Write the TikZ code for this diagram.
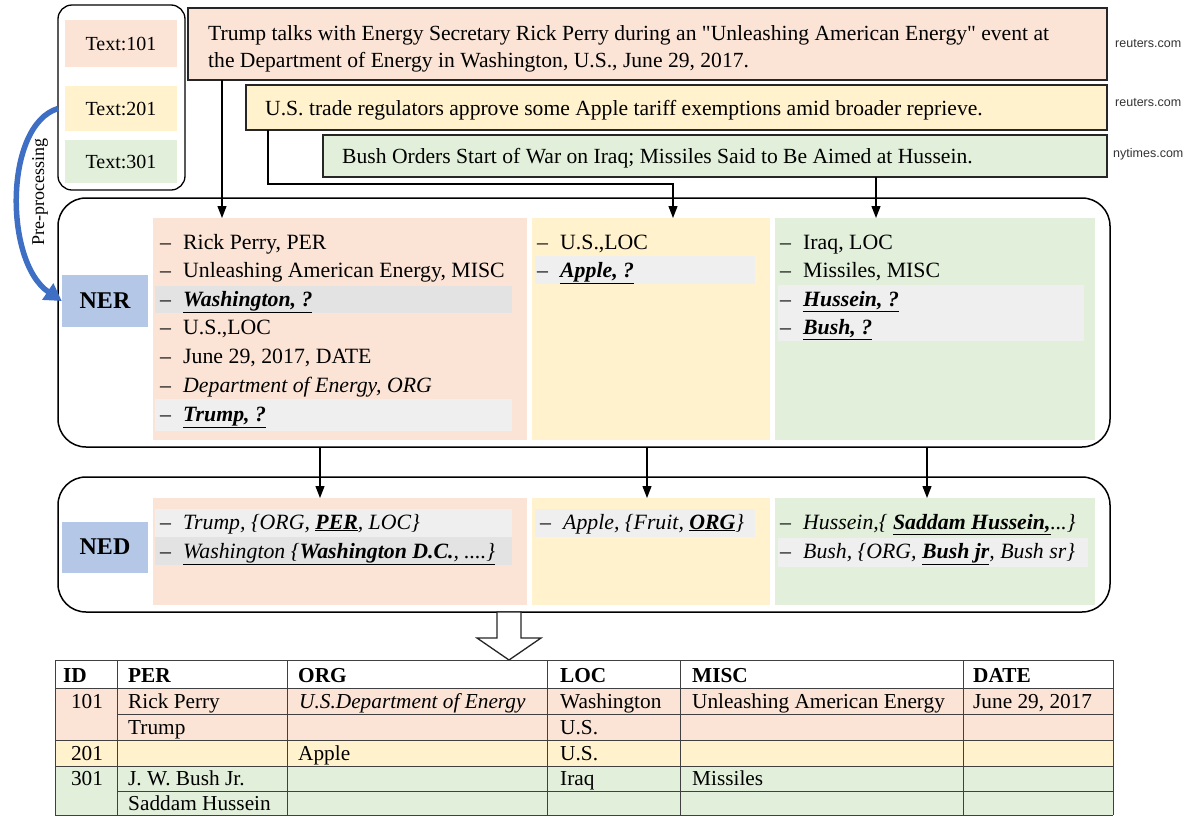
\documentclass[tikz,border=0pt]{standalone}
\usepackage{fontspec}
\setmainfont{Liberation Serif}
\newfontfamily\qfont{Liberation Serif}
\newfontfamily\sansf{Liberation Sans}
\usetikzlibrary{arrows.meta}
\definecolor{cpink}{HTML}{FBE4D6}
\definecolor{cyel}{HTML}{FFF2CC}
\definecolor{cgrn}{HTML}{E2EFDA}
\definecolor{cblue}{HTML}{B4C7E7}
\definecolor{chl}{HTML}{EFEFEF}
\definecolor{chl2}{HTML}{E3E3E3}
\definecolor{darrow}{HTML}{3F6FC4}
\newcommand{\litem}[1]{\makebox[23pt][l]{–}#1}
\newcommand{\qm}[1]{\underline{\textbf{\textit{#1}}}}
\newcommand{\dq}{{\qfont"}}
\tikzset{
  blk/.style={anchor=north west, inner sep=0pt, outer sep=0pt},
  colbox/.style={blk, draw=none},
  hl/.style={blk, draw=none, fill=chl},
  sent/.style={blk, draw=black!85, line width=1.3pt},
  bigbox/.style={blk, draw=black, line width=1.5pt, rounded corners=28pt},
  lab/.style={inner sep=0pt, fill=cblue, font=\fontsize{24}{28}\selectfont\bfseries},
  tag/.style={inner sep=0pt, font=\fontsize{20}{23}\selectfont},
  stxt/.style={anchor=base west, inner sep=0pt, font=\fontsize{21.6}{25}\selectfont},
  itxt/.style={anchor=base west, inner sep=0pt, font=\fontsize{21.8}{25}\selectfont},
  src/.style={anchor=west, inner sep=0pt, font=\sansf\fontsize{12.5}{14}\selectfont, text=black!80},
  arr/.style={draw=black, line width=1.2pt, -{Triangle[length=12pt,width=9pt]}},
  tcell/.style={anchor=base west, inner sep=0pt, font=\fontsize{21.3}{24}\selectfont},
  thead/.style={tcell, font=\fontsize{21.3}{24}\selectfont\bfseries},
  tid/.style={tcell, anchor=base},
  tgrid/.style={draw=black!75, line width=1pt}
}
\begin{document}
\begin{tikzpicture}[x=1pt,y=-1pt]
\path[use as bounding box, fill=white] (0,0) rectangle (1194,817);

% ---------- source texts ----------
\node[blk, draw=black, line width=1.3pt, rounded corners=14pt, minimum width=127pt, minimum height=185pt] (srcbox) at (58,5) {};
\node[tag, fill=cpink, minimum width=112pt, minimum height=47pt] (t1) at (121,43.5) {Text:101};
\node[tag, fill=cyel, minimum width=112pt, minimum height=45pt] (t2) at (121,108.5) {Text:201};
\node[tag, fill=cgrn, minimum width=112pt, minimum height=43pt] (t3) at (121,161.5) {Text:301};

% ---------- sentences ----------
\node[sent, fill=cpink, minimum width=919pt, minimum height=72pt] (s1) at (188,8) {};
\node[stxt] (s1a) at (208,40) {Trump talks with Energy Secretary Rick Perry during an \dq Unleashing American Energy\dq\ event at};
\node[stxt] (s1b) at (208,67) {the Department of Energy in Washington, U.S., June 29, 2017.};
\node[sent, fill=cyel, minimum width=861pt, minimum height=45pt] (s2) at (246,85) {};
\node[stxt] (s2a) at (265,115) {U.S. trade regulators approve some Apple tariff exemptions amid broader reprieve.};
\node[sent, fill=cgrn, minimum width=784pt, minimum height=42pt] (s3) at (323,135) {};
\node[stxt] (s3a) at (342,163) {Bush Orders Start of War on Iraq; Missiles Said to Be Aimed at Hussein.};
\node[src] (r1) at (1115,44) {reuters.com};
\node[src] (r2) at (1115,103) {reuters.com};
\node[src] (r3) at (1113,154) {nytimes.com};

% ---------- NER ----------
\node[bigbox, minimum width=1052pt, minimum height=249pt] (ner) at (58,198) {};
\node[lab, minimum width=86pt, minimum height=52pt] (nerlab) at (105,301) {NER};
\node[colbox, fill=cpink, minimum width=374pt, minimum height=222pt] (nerP) at (153,218) {};
\node[colbox, fill=cyel, minimum width=238pt, minimum height=222pt] (nerY) at (532,218) {};
\node[colbox, fill=cgrn, minimum width=320pt, minimum height=222pt] (nerG) at (775,218) {};
\node[hl, fill=chl2, minimum width=357pt, minimum height=27pt] (h1) at (155,286) {};
\node[hl, minimum width=357pt, minimum height=32pt] (h2) at (155,399) {};
\node[hl, minimum width=220pt, minimum height=28pt] (h3) at (535,256) {};
\node[hl, minimum width=306pt, minimum height=56pt] (h4) at (778,285) {};

\node[itxt] (p1) at (160,249) {\litem{Rick Perry, PER}};
\node[itxt] (p2) at (160,277) {\litem{Unleashing American Energy, MISC}};
\node[itxt] (p3) at (160,306) {\litem{\qm{Washington, ?}}};
\node[itxt] (p4) at (160,334) {\litem{U.S.,LOC}};
\node[itxt] (p5) at (160,363) {\litem{June 29, 2017, DATE}};
\node[itxt] (p6) at (160,392) {\litem{\textit{Department of Energy, ORG}}};
\node[itxt] (p7) at (160,421) {\litem{\qm{Trump, ?}}};
\node[itxt] (y1) at (537,249) {\litem{U.S.,LOC}};
\node[itxt] (y2) at (537,277) {\litem{\qm{Apple, ?}}};
\node[itxt] (g1) at (780,249) {\litem{Iraq, LOC}};
\node[itxt] (g2) at (780,277) {\litem{Missiles, MISC}};
\node[itxt] (g3) at (780,306) {\litem{\qm{Hussein, ?}}};
\node[itxt] (g4) at (780,334) {\litem{\qm{Bush, ?}}};

% ---------- NED ----------
\node[bigbox, minimum width=1052pt, minimum height=135pt] (ned) at (58,477) {};
\node[lab, minimum width=86pt, minimum height=51pt] (nedlab) at (105,547) {NED};
\node[colbox, fill=cpink, minimum width=374pt, minimum height=107pt] (nedP) at (153,498) {};
\node[colbox, fill=cyel, minimum width=238pt, minimum height=107pt] (nedY) at (532,498) {};
\node[colbox, fill=cgrn, minimum width=320pt, minimum height=107pt] (nedG) at (775,498) {};
\node[hl, minimum width=357pt, minimum height=28pt] (k1) at (155,509) {};
\node[hl, fill=chl2, minimum width=357pt, minimum height=28pt] (k2) at (155,537) {};
\node[hl, minimum width=220pt, minimum height=28pt] (k3) at (535,509) {};
\node[hl, minimum width=310pt, minimum height=29pt] (k4) at (778,538) {};

\node[itxt] (d1) at (160,529) {\itshape\litem{Trump, \{ORG, \underline{\textbf{PER}}, LOC\}}};
\node[itxt] (d2) at (160,558) {\itshape\litem{\underline{Washington \{\textbf{Washington D.C.}, ....\}}}};
\node[itxt] (d3) at (540,529) {\itshape\litem{Apple, \{Fruit, \underline{\textbf{ORG}}\}}};
\node[itxt] (d4) at (780,529) {\itshape\litem{Hussein,\{ \underline{\textbf{Saddam Hussein,}}...\}}};
\node[itxt] (d5) at (780,558) {\itshape\litem{Bush, \{ORG, \underline{\textbf{Bush jr}}, Bush sr\}}};

% ---------- connectors ----------
\draw[arr] ([xshift=34pt]s1.south west) -- ([xshift=69pt]nerP.north west);
\draw[arr] ([xshift=22pt]s2.south west) -- ++(0,54) -| ([xshift=141pt]nerY.north west);
\draw[arr] ([xshift=553pt]s3.south west) -- ([xshift=101pt]nerG.north west);

\draw[arr] ([xshift=167pt]nerP.south west |- ner.south) -- ([xshift=167pt]nedP.north west);
\draw[arr] ([xshift=115pt]nerY.south west |- ner.south) -- ([xshift=115pt]nedY.north west);
\draw[arr] ([xshift=152pt]nerG.south west |- ner.south) -- ([xshift=152pt]nedG.north west);

% pre-processing
\draw[draw=darrow, line width=5.5pt, -{Triangle[length=17pt,width=19pt]}] (srcbox.west |- t2) .. controls (4,125) and (4,262) .. (nerlab.west);
\node[rotate=90, inner sep=0pt, font=\fontsize{18}{21}\selectfont] (pre) at (40,192) {Pre-processing};

% hollow arrow
\coordinate (ha) at (509,612);
\draw[fill=white, draw=black!85, line width=1.3pt] (ha) ++(-12,0) -- ++(24,0) -- ++(0,26) -- ++(20,0) -- ++(-32,22) -- ++(-32,-22) -- ++(20,0) -- cycle;

% ---------- table ----------
\fill[cpink] (55,688) rectangle (1113,740);
\fill[cyel] (55,740) rectangle (1113,766);
\fill[cgrn] (55,766) rectangle (1113,815);
\draw[tgrid] (55,660) -- (1113,660);
\draw[tgrid] (55,688) -- (1113,688);
\draw[tgrid] (117,714) -- (1113,714);
\draw[tgrid] (55,740) -- (1113,740);
\draw[tgrid] (55,766) -- (1113,766);
\draw[tgrid] (117,791) -- (1113,791);
\draw[tgrid] (55,815) -- (1113,815);
\foreach \cx in {55,117,287,547,680,963,1113} \draw[tgrid] (\cx,660) -- (\cx,815);

\node[thead] (hid) at (63,682) {ID};
\node[thead] (hper) at (128,682) {PER};
\node[thead] (horg) at (298,682) {ORG};
\node[thead] (hloc) at (560,682) {LOC};
\node[thead] (hmisc) at (692,682) {MISC};
\node[thead] (hdate) at (973,682) {DATE};

\node[tid] (c11) at (87,708) {101};
\node[tcell] (c12) at (128,708) {Rick Perry};
\node[tcell] (c13) at (299,708) {\textit{U.S.Department of Energy}};
\node[tcell] (c14) at (560,708) {Washington};
\node[tcell] (c15) at (692,708) {Unleashing American Energy};
\node[tcell] (c16) at (973,708) {June 29, 2017};
\node[tcell] (c22) at (128,734) {Trump};
\node[tcell] (c24) at (560,734) {U.S.};
\node[tid] (c31) at (87,760) {201};
\node[tcell] (c33) at (298,760) {Apple};
\node[tcell] (c34) at (560,760) {U.S.};
\node[tid] (c41) at (87,785) {301};
\node[tcell] (c42) at (128,785) {J. W. Bush Jr.};
\node[tcell] (c44) at (560,785) {Iraq};
\node[tcell] (c45) at (692,785) {Missiles};
\node[tcell] (c52) at (128,810) {Saddam Hussein};
\end{tikzpicture}
\end{document}
